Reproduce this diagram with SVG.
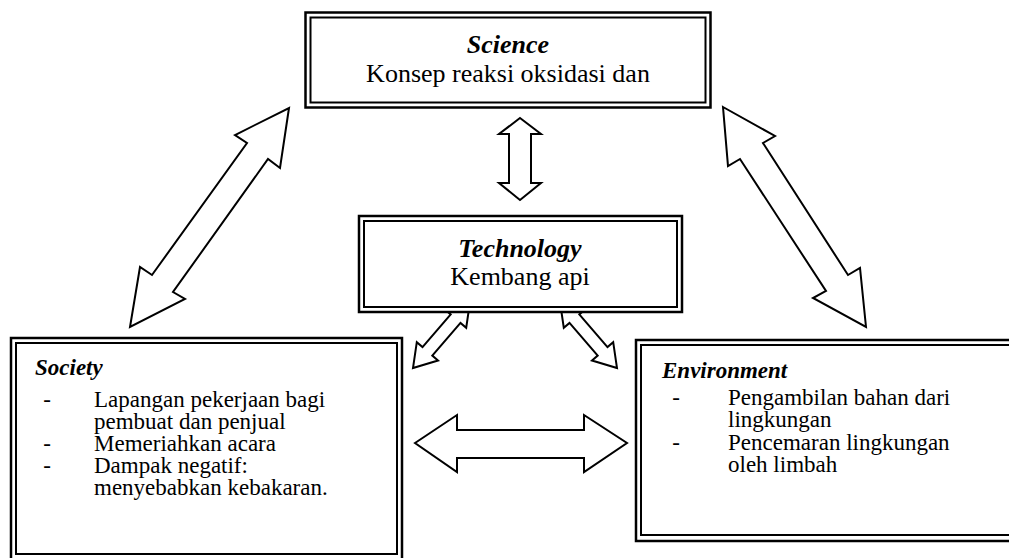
<svg xmlns="http://www.w3.org/2000/svg" width="1009" height="558" viewBox="0 0 1009 558">
<style>
  .outer { fill: none; stroke: #000; stroke-width: 2.5; }
  .inner { fill: none; stroke: #000; stroke-width: 2; }
  .bg { fill: #fff; stroke: none; }
  .arrow { fill: #fff; stroke: #000; stroke-width: 2; stroke-linejoin: miter; }
  .title { font-family: "Liberation Serif", serif; font-weight: bold; font-style: italic; fill: #000; }
  .body { font-family: "Liberation Serif", serif; fill: #000; }
  .big { font-size: 26px; }
  .small { font-size: 23px; }
</style>
<rect x="0" y="0" width="1009" height="558" fill="#fff"/>

<g id="connectors">
  <polygon class="arrow" points="289,108 280,168 268,159 173,292 185,299 130,327 140,267 152,275 247,143 235,135"/>
  <polygon class="arrow" points="723,107 775,136 763,143 848,275 860,268 866,327 813,298 826,291 740,159 728,166"/>
  <polygon class="arrow" points="520,118 541,134 531,134 531,183 541,183 520,200 499,183 509,183 509,134 499,134"/>
  <polygon class="arrow" points="415,443 457,415 457,430 584,430 584,415 627,443 584,472 584,458 457,458 457,472"/>
  <polygon class="arrow" points="470,302 466.2,327.8 460.5,322.9 432.3,355.6 438,360.5 413,368 416.8,342.2 422.5,347.1 450.7,314.4 445,309.5"/>
  <polygon class="arrow" points="560,302 563.8,327.8 569.5,322.9 597.7,355.6 592,360.5 617,368 613.2,342.2 607.5,347.1 579.3,314.4 585,309.5"/>
</g>

<g id="science">
  <rect class="outer" x="305.5" y="12.5" width="405" height="95"/>
  <rect class="inner" x="310.5" y="17.5" width="395" height="85"/>
  <text class="title big" x="508" y="53" text-anchor="middle">Science</text>
  <text class="body big" x="508" y="82" text-anchor="middle">Konsep reaksi oksidasi dan</text>
</g>

<g id="technology">
  <rect class="bg" x="358" y="215" width="325" height="98"/>
  <rect class="outer" x="359" y="216" width="323" height="96"/>
  <rect class="inner" x="364" y="221" width="313" height="86"/>
  <text class="title big" x="520" y="257" text-anchor="middle">Technology</text>
  <text class="body big" x="520" y="285" text-anchor="middle">Kembang api</text>
</g>

<g id="society">
  <rect class="outer" x="11" y="338" width="391" height="226"/>
  <rect class="inner" x="16" y="343" width="381" height="211"/>
  <text class="title small" x="35" y="375">Society</text>
  <text class="body small" x="47" y="407" text-anchor="middle">-</text>
  <text class="body small" x="94" y="407">Lapangan pekerjaan bagi</text>
  <text class="body small" x="94" y="429">pembuat dan penjual</text>
  <text class="body small" x="47" y="451" text-anchor="middle">-</text>
  <text class="body small" x="94" y="451">Memeriahkan acara</text>
  <text class="body small" x="47" y="473" text-anchor="middle">-</text>
  <text class="body small" x="94" y="473">Dampak negatif:</text>
  <text class="body small" x="94" y="495">menyebabkan kebakaran.</text>
</g>

<g id="environment">
  <rect class="outer" x="636" y="340" width="390" height="201"/>
  <rect class="inner" x="641" y="345" width="380" height="190"/>
  <text class="title small" x="662" y="378">Environment</text>
  <text class="body small" x="676" y="405" text-anchor="middle">-</text>
  <text class="body small" x="728" y="405">Pengambilan bahan dari</text>
  <text class="body small" x="728" y="427">lingkungan</text>
  <text class="body small" x="676" y="450" text-anchor="middle">-</text>
  <text class="body small" x="728" y="450">Pencemaran lingkungan</text>
  <text class="body small" x="728" y="472">oleh limbah</text>
</g>
</svg>
